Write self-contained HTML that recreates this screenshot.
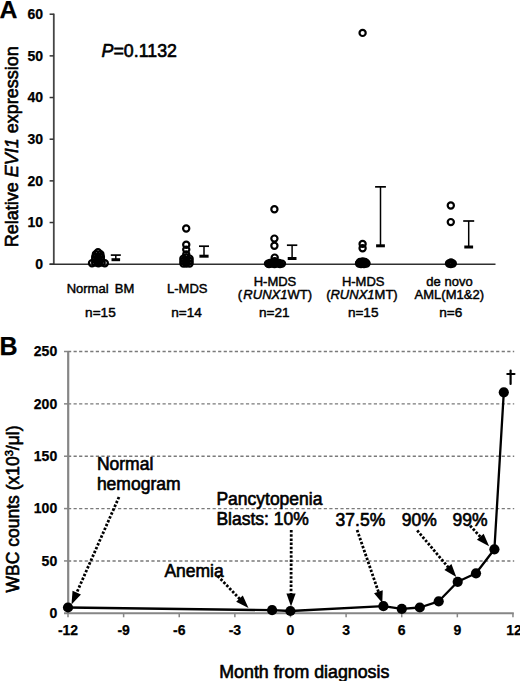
<!DOCTYPE html>
<html><head><meta charset="utf-8"><style>
html,body{margin:0;padding:0;background:#fff;width:520px;height:681px;overflow:hidden}
svg{display:block}
text{font-family:"Liberation Sans", sans-serif;fill:#000;stroke:#000;stroke-width:0.62px;stroke-linejoin:round}
text.b{stroke-width:0.25px}
text.s{stroke-width:0.45px}
</style></head><body>
<svg width="520" height="681" viewBox="0 0 520 681">
<rect width="520" height="681" fill="#fff"/>
<text x="-0.6" y="17.8" font-size="24.8" font-weight="bold" class="b">A</text>
<line x1="53.8" y1="13.60" x2="53.8" y2="264.20" stroke="#454545" stroke-width="1.8"/>
<line x1="49.6" y1="264.20" x2="53.8" y2="264.20" stroke="#333" stroke-width="1.5"/>
<text x="43" y="269.10" font-size="14" font-weight="bold" class="b" text-anchor="end">0</text>
<line x1="49.6" y1="222.53" x2="53.8" y2="222.53" stroke="#333" stroke-width="1.5"/>
<text x="43" y="227.43" font-size="14" font-weight="bold" class="b" text-anchor="end">10</text>
<line x1="49.6" y1="180.87" x2="53.8" y2="180.87" stroke="#333" stroke-width="1.5"/>
<text x="43" y="185.77" font-size="14" font-weight="bold" class="b" text-anchor="end">20</text>
<line x1="49.6" y1="139.20" x2="53.8" y2="139.20" stroke="#333" stroke-width="1.5"/>
<text x="43" y="144.10" font-size="14" font-weight="bold" class="b" text-anchor="end">30</text>
<line x1="49.6" y1="97.53" x2="53.8" y2="97.53" stroke="#333" stroke-width="1.5"/>
<text x="43" y="102.43" font-size="14" font-weight="bold" class="b" text-anchor="end">40</text>
<line x1="49.6" y1="55.87" x2="53.8" y2="55.87" stroke="#333" stroke-width="1.5"/>
<text x="43" y="60.77" font-size="14" font-weight="bold" class="b" text-anchor="end">50</text>
<line x1="49.6" y1="14.20" x2="53.8" y2="14.20" stroke="#333" stroke-width="1.5"/>
<text x="43" y="19.10" font-size="14" font-weight="bold" class="b" text-anchor="end">60</text>
<line x1="49.6" y1="264.30" x2="495.5" y2="264.30" stroke="#303030" stroke-width="1.5"/>
<text transform="translate(18,146.7) rotate(-90)" font-size="18" text-anchor="middle">Relative <tspan font-style="italic">EVI1</tspan> expression</text>
<text x="101.6" y="56.8" font-size="17.8"><tspan font-style="italic">P</tspan>=0.1132</text>
<text x="100.5" y="293" font-size="13" class="s" text-anchor="middle">Normal<tspan dx="2.6"> BM</tspan></text>
<text x="187.3" y="293" font-size="13" class="s" text-anchor="middle">L-MDS</text>
<text x="275" y="286.3" font-size="13" class="s" text-anchor="middle">H-MDS</text>
<text x="274.9" y="298.5" font-size="13" class="s" text-anchor="middle">(<tspan dx="1.2" font-style="italic">RUNX1</tspan>WT)</text>
<text x="363.2" y="286.3" font-size="13" class="s" text-anchor="middle">H-MDS</text>
<text x="361.9" y="298.5" font-size="13" class="s" text-anchor="middle">(<tspan font-style="italic">RUNX1</tspan>MT)</text>
<text x="449.5" y="286.3" font-size="13" class="s" text-anchor="middle">de novo</text>
<text x="449.3" y="298.5" font-size="13" class="s" text-anchor="middle">AML(M1&amp;2)</text>
<text x="100.4" y="317.3" font-size="13.6" class="s" text-anchor="middle">n=15</text>
<text x="186.5" y="317.3" font-size="13.6" class="s" text-anchor="middle">n=14</text>
<text x="274.3" y="317.3" font-size="13.6" class="s" text-anchor="middle">n=21</text>
<text x="363.2" y="317.3" font-size="13.6" class="s" text-anchor="middle">n=15</text>
<text x="450.7" y="317.3" font-size="13.6" class="s" text-anchor="middle">n=6</text>
<circle cx="98.00" cy="252.20" r="3.1" fill="none" stroke="#000" stroke-width="2.2"/>
<circle cx="95.90" cy="254.30" r="3.1" fill="none" stroke="#000" stroke-width="2.2"/>
<circle cx="100.40" cy="254.30" r="3.1" fill="none" stroke="#000" stroke-width="2.2"/>
<circle cx="95.20" cy="257.00" r="3.1" fill="none" stroke="#000" stroke-width="2.2"/>
<circle cx="100.90" cy="257.00" r="3.1" fill="none" stroke="#000" stroke-width="2.2"/>
<circle cx="98.00" cy="257.50" r="3.1" fill="none" stroke="#000" stroke-width="2.2"/>
<circle cx="95.20" cy="259.50" r="3.1" fill="none" stroke="#000" stroke-width="2.2"/>
<circle cx="100.90" cy="259.50" r="3.1" fill="none" stroke="#000" stroke-width="2.2"/>
<circle cx="98.00" cy="260.50" r="3.1" fill="none" stroke="#000" stroke-width="2.2"/>
<circle cx="92.00" cy="263.30" r="3.1" fill="none" stroke="#000" stroke-width="2.2"/>
<circle cx="98.40" cy="263.30" r="3.1" fill="none" stroke="#000" stroke-width="2.2"/>
<circle cx="104.80" cy="263.30" r="3.1" fill="none" stroke="#000" stroke-width="2.2"/>
<circle cx="95.20" cy="262.50" r="3.1" fill="none" stroke="#000" stroke-width="2.2"/>
<circle cx="101.60" cy="262.50" r="3.1" fill="none" stroke="#000" stroke-width="2.2"/>
<circle cx="98.40" cy="262.00" r="3.1" fill="none" stroke="#000" stroke-width="2.2"/>
<circle cx="186.20" cy="228.50" r="3.1" fill="none" stroke="#000" stroke-width="2.2"/>
<circle cx="186.25" cy="244.75" r="3.1" fill="none" stroke="#000" stroke-width="2.2"/>
<circle cx="186.25" cy="249.60" r="3.1" fill="none" stroke="#000" stroke-width="2.2"/>
<circle cx="186.25" cy="254.40" r="3.1" fill="none" stroke="#000" stroke-width="2.2"/>
<circle cx="183.40" cy="258.60" r="3.1" fill="none" stroke="#000" stroke-width="2.2"/>
<circle cx="189.60" cy="258.60" r="3.1" fill="none" stroke="#000" stroke-width="2.2"/>
<circle cx="183.40" cy="261.00" r="3.1" fill="none" stroke="#000" stroke-width="2.2"/>
<circle cx="189.60" cy="261.00" r="3.1" fill="none" stroke="#000" stroke-width="2.2"/>
<circle cx="183.40" cy="263.50" r="3.1" fill="none" stroke="#000" stroke-width="2.2"/>
<circle cx="189.60" cy="263.50" r="3.1" fill="none" stroke="#000" stroke-width="2.2"/>
<circle cx="186.30" cy="263.50" r="3.1" fill="none" stroke="#000" stroke-width="2.2"/>
<circle cx="186.30" cy="257.50" r="3.1" fill="none" stroke="#000" stroke-width="2.2"/>
<circle cx="186.30" cy="260.50" r="3.1" fill="none" stroke="#000" stroke-width="2.2"/>
<circle cx="186.30" cy="262.00" r="3.1" fill="none" stroke="#000" stroke-width="2.2"/>
<circle cx="274.40" cy="209.30" r="3.1" fill="none" stroke="#000" stroke-width="2.2"/>
<circle cx="274.40" cy="238.60" r="3.1" fill="none" stroke="#000" stroke-width="2.2"/>
<circle cx="274.40" cy="245.80" r="3.1" fill="none" stroke="#000" stroke-width="2.2"/>
<circle cx="274.70" cy="257.60" r="3.1" fill="none" stroke="#000" stroke-width="2.2"/>
<circle cx="268.00" cy="263.60" r="3.1" fill="none" stroke="#000" stroke-width="2.2"/>
<circle cx="271.50" cy="263.60" r="3.1" fill="none" stroke="#000" stroke-width="2.2"/>
<circle cx="275.00" cy="263.60" r="3.1" fill="none" stroke="#000" stroke-width="2.2"/>
<circle cx="278.50" cy="263.60" r="3.1" fill="none" stroke="#000" stroke-width="2.2"/>
<circle cx="282.00" cy="263.60" r="3.1" fill="none" stroke="#000" stroke-width="2.2"/>
<circle cx="270.00" cy="262.90" r="3.1" fill="none" stroke="#000" stroke-width="2.2"/>
<circle cx="279.00" cy="262.90" r="3.1" fill="none" stroke="#000" stroke-width="2.2"/>
<circle cx="274.70" cy="261.20" r="3.1" fill="none" stroke="#000" stroke-width="2.2"/>
<circle cx="272.00" cy="263.00" r="3.1" fill="none" stroke="#000" stroke-width="2.2"/>
<circle cx="277.00" cy="263.00" r="3.1" fill="none" stroke="#000" stroke-width="2.2"/>
<circle cx="274.70" cy="262.50" r="3.1" fill="none" stroke="#000" stroke-width="2.2"/>
<circle cx="269.00" cy="264.00" r="3.1" fill="none" stroke="#000" stroke-width="2.2"/>
<circle cx="280.00" cy="264.00" r="3.1" fill="none" stroke="#000" stroke-width="2.2"/>
<circle cx="274.50" cy="264.00" r="3.1" fill="none" stroke="#000" stroke-width="2.2"/>
<circle cx="276.00" cy="262.20" r="3.1" fill="none" stroke="#000" stroke-width="2.2"/>
<circle cx="273.00" cy="262.20" r="3.1" fill="none" stroke="#000" stroke-width="2.2"/>
<circle cx="271.00" cy="263.00" r="3.1" fill="none" stroke="#000" stroke-width="2.2"/>
<circle cx="362.60" cy="32.90" r="3.1" fill="none" stroke="#000" stroke-width="2.2"/>
<circle cx="362.60" cy="243.90" r="3.1" fill="none" stroke="#000" stroke-width="2.2"/>
<circle cx="362.60" cy="248.30" r="3.1" fill="none" stroke="#000" stroke-width="2.2"/>
<circle cx="359.00" cy="263.50" r="3.1" fill="none" stroke="#000" stroke-width="2.2"/>
<circle cx="362.70" cy="263.50" r="3.1" fill="none" stroke="#000" stroke-width="2.2"/>
<circle cx="366.50" cy="263.50" r="3.1" fill="none" stroke="#000" stroke-width="2.2"/>
<circle cx="360.00" cy="262.00" r="3.1" fill="none" stroke="#000" stroke-width="2.2"/>
<circle cx="365.00" cy="262.00" r="3.1" fill="none" stroke="#000" stroke-width="2.2"/>
<circle cx="362.70" cy="261.50" r="3.1" fill="none" stroke="#000" stroke-width="2.2"/>
<circle cx="361.00" cy="264.00" r="3.1" fill="none" stroke="#000" stroke-width="2.2"/>
<circle cx="364.00" cy="264.00" r="3.1" fill="none" stroke="#000" stroke-width="2.2"/>
<circle cx="362.70" cy="263.00" r="3.1" fill="none" stroke="#000" stroke-width="2.2"/>
<circle cx="359.50" cy="263.00" r="3.1" fill="none" stroke="#000" stroke-width="2.2"/>
<circle cx="366.00" cy="263.00" r="3.1" fill="none" stroke="#000" stroke-width="2.2"/>
<circle cx="450.80" cy="205.50" r="3.1" fill="none" stroke="#000" stroke-width="2.2"/>
<circle cx="450.80" cy="222.10" r="3.1" fill="none" stroke="#000" stroke-width="2.2"/>
<circle cx="449.00" cy="263.50" r="3.1" fill="none" stroke="#000" stroke-width="2.2"/>
<circle cx="452.80" cy="263.50" r="3.1" fill="none" stroke="#000" stroke-width="2.2"/>
<circle cx="451.00" cy="262.50" r="3.1" fill="none" stroke="#000" stroke-width="2.2"/>
<circle cx="450.80" cy="264.00" r="3.1" fill="none" stroke="#000" stroke-width="2.2"/>
<line x1="115.80" y1="255.10" x2="115.80" y2="259.70" stroke="#000" stroke-width="1.5"/>
<line x1="110.80" y1="255.10" x2="120.80" y2="255.10" stroke="#000" stroke-width="1.7"/>
<line x1="111.50" y1="259.70" x2="120.10" y2="259.70" stroke="#000" stroke-width="3"/>
<line x1="204.00" y1="246.20" x2="204.00" y2="256.20" stroke="#000" stroke-width="1.5"/>
<line x1="199.00" y1="246.20" x2="209.00" y2="246.20" stroke="#000" stroke-width="1.7"/>
<line x1="199.40" y1="256.20" x2="208.60" y2="256.20" stroke="#000" stroke-width="3"/>
<line x1="292.10" y1="245.20" x2="292.10" y2="258.50" stroke="#000" stroke-width="1.5"/>
<line x1="286.90" y1="245.20" x2="297.30" y2="245.20" stroke="#000" stroke-width="1.7"/>
<line x1="287.70" y1="258.50" x2="296.50" y2="258.50" stroke="#000" stroke-width="3"/>
<line x1="380.50" y1="186.85" x2="380.50" y2="245.80" stroke="#000" stroke-width="1.5"/>
<line x1="375.10" y1="186.85" x2="385.90" y2="186.85" stroke="#000" stroke-width="1.7"/>
<line x1="376.10" y1="245.80" x2="384.90" y2="245.80" stroke="#000" stroke-width="3"/>
<line x1="468.70" y1="221.00" x2="468.70" y2="247.00" stroke="#000" stroke-width="1.5"/>
<line x1="463.20" y1="221.00" x2="474.20" y2="221.00" stroke="#000" stroke-width="1.7"/>
<line x1="464.30" y1="247.00" x2="473.10" y2="247.00" stroke="#000" stroke-width="3"/>
<text x="-0.4" y="355.4" font-size="25" font-weight="bold" class="b">B</text>
<line x1="68" y1="560.94" x2="514.2" y2="560.94" stroke="#7a7a7a" stroke-width="1.4" stroke-dasharray="3.2 2.36"/>
<line x1="64" y1="560.94" x2="68" y2="560.94" stroke="#868686" stroke-width="1.5"/>
<line x1="68" y1="508.58" x2="514.2" y2="508.58" stroke="#7a7a7a" stroke-width="1.4" stroke-dasharray="3.2 2.36"/>
<line x1="64" y1="508.58" x2="68" y2="508.58" stroke="#868686" stroke-width="1.5"/>
<line x1="68" y1="456.22" x2="514.2" y2="456.22" stroke="#7a7a7a" stroke-width="1.4" stroke-dasharray="3.2 2.36"/>
<line x1="64" y1="456.22" x2="68" y2="456.22" stroke="#868686" stroke-width="1.5"/>
<line x1="68" y1="403.86" x2="514.2" y2="403.86" stroke="#7a7a7a" stroke-width="1.4" stroke-dasharray="3.2 2.36"/>
<line x1="64" y1="403.86" x2="68" y2="403.86" stroke="#868686" stroke-width="1.5"/>
<line x1="68" y1="351.50" x2="514.2" y2="351.50" stroke="#7a7a7a" stroke-width="1.4" stroke-dasharray="3.2 2.36"/>
<line x1="64" y1="351.50" x2="68" y2="351.50" stroke="#868686" stroke-width="1.5"/>
<text x="57.2" y="618.20" font-size="14" font-weight="bold" class="b" text-anchor="end">0</text>
<text x="57.2" y="565.84" font-size="14" font-weight="bold" class="b" text-anchor="end">50</text>
<text x="57.2" y="513.48" font-size="14" font-weight="bold" class="b" text-anchor="end">100</text>
<text x="57.2" y="461.12" font-size="14" font-weight="bold" class="b" text-anchor="end">150</text>
<text x="57.2" y="408.76" font-size="14" font-weight="bold" class="b" text-anchor="end">200</text>
<text x="57.2" y="356.40" font-size="14" font-weight="bold" class="b" text-anchor="end">250</text>
<line x1="68.2" y1="351.50" x2="68.2" y2="613.30" stroke="#868686" stroke-width="2.2"/>
<line x1="64" y1="613.30" x2="513.8" y2="613.30" stroke="#868686" stroke-width="2"/>
<line x1="68.00" y1="613.30" x2="68.00" y2="617.30" stroke="#868686" stroke-width="1.5"/>
<text x="68.00" y="634.5" font-size="14" font-weight="bold" class="b" text-anchor="middle">-12</text>
<line x1="123.62" y1="613.30" x2="123.62" y2="617.30" stroke="#868686" stroke-width="1.5"/>
<text x="123.62" y="634.5" font-size="14" font-weight="bold" class="b" text-anchor="middle">-9</text>
<line x1="179.24" y1="613.30" x2="179.24" y2="617.30" stroke="#868686" stroke-width="1.5"/>
<text x="179.24" y="634.5" font-size="14" font-weight="bold" class="b" text-anchor="middle">-6</text>
<line x1="234.86" y1="613.30" x2="234.86" y2="617.30" stroke="#868686" stroke-width="1.5"/>
<text x="234.86" y="634.5" font-size="14" font-weight="bold" class="b" text-anchor="middle">-3</text>
<line x1="290.48" y1="613.30" x2="290.48" y2="617.30" stroke="#868686" stroke-width="1.5"/>
<text x="290.48" y="634.5" font-size="14" font-weight="bold" class="b" text-anchor="middle">0</text>
<line x1="346.10" y1="613.30" x2="346.10" y2="617.30" stroke="#868686" stroke-width="1.5"/>
<text x="346.10" y="634.5" font-size="14" font-weight="bold" class="b" text-anchor="middle">3</text>
<line x1="401.72" y1="613.30" x2="401.72" y2="617.30" stroke="#868686" stroke-width="1.5"/>
<text x="401.72" y="634.5" font-size="14" font-weight="bold" class="b" text-anchor="middle">6</text>
<line x1="457.34" y1="613.30" x2="457.34" y2="617.30" stroke="#868686" stroke-width="1.5"/>
<text x="457.34" y="634.5" font-size="14" font-weight="bold" class="b" text-anchor="middle">9</text>
<line x1="512.96" y1="613.30" x2="512.96" y2="617.30" stroke="#868686" stroke-width="1.5"/>
<text x="513.96" y="634.5" font-size="14" font-weight="bold" class="b" text-anchor="middle">12</text>
<text transform="translate(18.5,509) rotate(-90)" font-size="17.5" text-anchor="middle">WBC counts (x10<tspan font-size="11" dy="-6">3</tspan><tspan dy="6">/μl)</tspan></text>
<text x="304.3" y="677.9" font-size="17.8" text-anchor="middle">Month from diagnosis</text>
<polyline points="68,607.5 272.1,610.2 290.4,611 383.4,606.2 401.8,608.9 419.8,607.5 438.7,601.3 457.7,581.8 476,573.3 494.4,549.3 503.8,392.3" fill="none" stroke="#000" stroke-width="2.3" stroke-linejoin="round"/>
<circle cx="68" cy="607.5" r="5.1" fill="#000"/>
<circle cx="272.1" cy="610.2" r="5.1" fill="#000"/>
<circle cx="290.4" cy="611" r="5.1" fill="#000"/>
<circle cx="383.4" cy="606.2" r="5.1" fill="#000"/>
<circle cx="401.8" cy="608.9" r="5.1" fill="#000"/>
<circle cx="419.8" cy="607.5" r="5.1" fill="#000"/>
<circle cx="438.7" cy="601.3" r="5.1" fill="#000"/>
<circle cx="457.7" cy="581.8" r="5.1" fill="#000"/>
<circle cx="476" cy="573.3" r="5.1" fill="#000"/>
<circle cx="494.4" cy="549.3" r="5.1" fill="#000"/>
<circle cx="503.8" cy="392.3" r="5.1" fill="#000"/>
<line x1="510.6" y1="370.5" x2="510.6" y2="384" stroke="#000" stroke-width="2.2" stroke-linecap="round"/>
<line x1="507.3" y1="374" x2="514.5" y2="374" stroke="#000" stroke-width="2.1" stroke-linecap="round"/>
<text x="96.90" y="470.20" font-size="17.5">Normal</text>
<text x="96.90" y="490.20" font-size="17.5">hemogram</text>
<text x="164.40" y="577.40" font-size="17.5">Anemia</text>
<text x="216.40" y="504.90" font-size="17.5">Pancytopenia</text>
<text x="216.40" y="525.40" font-size="17.5">Blasts: 10%</text>
<text x="335.60" y="525.90" font-size="17.5">37.5%</text>
<text x="401.70" y="525.90" font-size="17.5">90%</text>
<text x="452.60" y="525.90" font-size="17.5">99%</text>
<line x1="119.00" y1="497.00" x2="76.55" y2="593.07" stroke="#000" stroke-width="2.8" stroke-dasharray="2.5 1.7"/>
<polygon points="71.50,604.50 72.55,590.75 80.96,594.47" fill="#000"/>
<line x1="217.70" y1="576.00" x2="239.83" y2="598.99" stroke="#000" stroke-width="2.8" stroke-dasharray="2.5 1.7"/>
<polygon points="248.50,608.00 236.17,601.82 242.80,595.44" fill="#000"/>
<line x1="291.25" y1="530.00" x2="291.04" y2="594.00" stroke="#000" stroke-width="2.8" stroke-dasharray="2.5 1.7"/>
<polygon points="291.00,606.50 286.44,593.49 295.64,593.52" fill="#000"/>
<line x1="357.10" y1="530.00" x2="378.55" y2="592.13" stroke="#000" stroke-width="2.8" stroke-dasharray="2.5 1.7"/>
<polygon points="382.30,603.00 374.04,593.16 382.73,590.16" fill="#000"/>
<line x1="417.20" y1="530.40" x2="448.26" y2="567.33" stroke="#000" stroke-width="2.8" stroke-dasharray="2.5 1.7"/>
<polygon points="456.30,576.90 444.41,569.91 451.45,563.99" fill="#000"/>
<line x1="470.10" y1="525.70" x2="480.63" y2="537.11" stroke="#000" stroke-width="2.8" stroke-dasharray="2.5 1.7"/>
<polygon points="489.10,546.30 476.90,539.86 483.67,533.63" fill="#000"/>
</svg>
</body></html>
